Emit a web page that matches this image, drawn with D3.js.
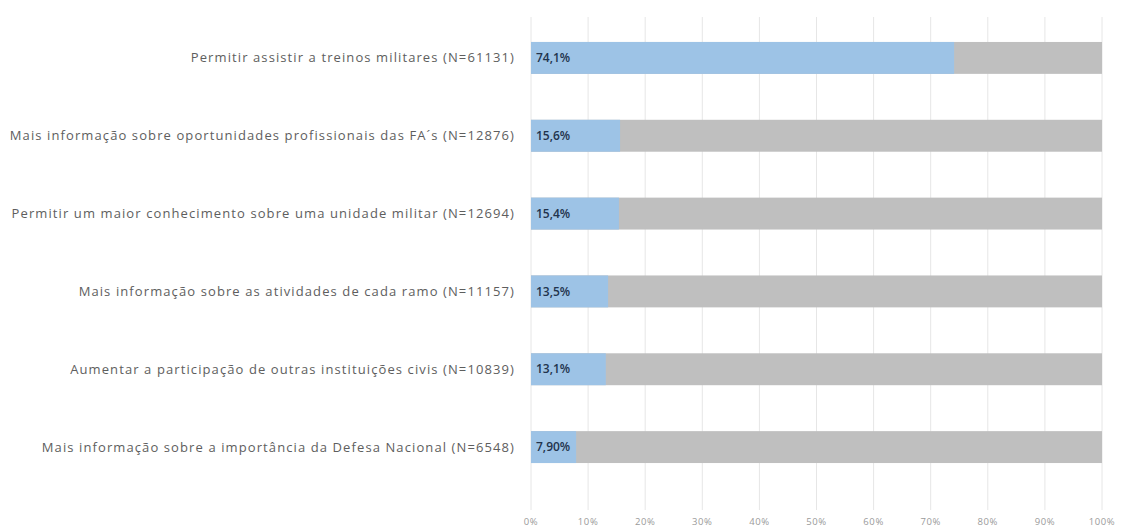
<!DOCTYPE html>
<html>
<head>
<meta charset="utf-8">
<script src="https://cdn.jsdelivr.net/npm/d3@7"></script>
<style>
  html, body { margin: 0; padding: 0; background: #fff; }
  svg text { font-family: "Open Sans", "DejaVu Sans", sans-serif; }
</style>
</head>
<body>
<svg id="chart" width="1121" height="532"></svg>
<script>
const categories = [
  "Permitir assistir a treinos militares (N=61131)",
  "Mais informação sobre oportunidades profissionais das FA´s (N=12876)",
  "Permitir um maior conhecimento sobre uma unidade militar (N=12694)",
  "Mais informação sobre as atividades de cada ramo (N=11157)",
  "Aumentar a participação de outras instituições civis (N=10839)",
  "Mais informação sobre a importância da Defesa Nacional (N=6548)"
];
const values = [74.1, 15.6, 15.4, 13.5, 13.1, 7.9];
const valueLabels = ["74,1%", "15,6%", "15,4%", "13,5%", "13,1%", "7,90%"];
const ticks = [0, 10, 20, 30, 40, 50, 60, 70, 80, 90, 100];
const tickLabels = ["0%", "10%", "20%", "30%", "40%", "50%", "60%", "70%", "80%", "90%", "100%"];

const svg = d3.select("#chart");
const plotLeft = 531, plotRight = 1102, plotTop = 19, plotBottom = 486;

const x = d3.scaleLinear().domain([0, 100]).range([plotLeft, plotRight]);
const y = d3.scaleBand().domain(categories).range([plotTop, plotBottom]).paddingInner(0.59).paddingOuter(0.295);

// vertical gridlines
svg.append("g").selectAll("line").data(ticks).join("line")
  .attr("x1", d => x(d)).attr("x2", d => x(d))
  .attr("y1", 17).attr("y2", 510)
  .attr("stroke", "#e6e6e6").attr("stroke-width", 1);

// remaining share (grey) to 100%
svg.append("g").selectAll("rect").data(categories).join("rect")
  .attr("x", x(0)).attr("width", x(100) - x(0))
  .attr("y", d => y(d)).attr("height", y.bandwidth())
  .attr("fill", "#bfbfbf");

// share (blue)
svg.append("g").selectAll("rect").data(values).join("rect")
  .attr("x", x(0)).attr("width", d => x(d) - x(0))
  .attr("y", (d, i) => y(categories[i])).attr("height", y.bandwidth())
  .attr("fill", "#9dc3e6");

// value labels
svg.append("g").selectAll("text").data(valueLabels).join("text")
  .attr("x", x(0) + 5)
  .attr("y", (d, i) => y(categories[i]) + y.bandwidth() / 2)
  .attr("dy", "0.35em")
  .attr("font-size", 12)
  .attr("font-weight", 600)
  .attr("fill", "#22334d")
  .text(d => d);

// category labels
svg.append("g").selectAll("text").data(categories).join("text")
  .attr("x", 515)
  .attr("y", d => y(d) + y.bandwidth() / 2)
  .attr("dy", "0.35em")
  .attr("text-anchor", "end")
  .attr("font-size", 13)
  .attr("letter-spacing", 1.1)
  .attr("fill", "#5e5e5e")
  .text(d => d);

// x axis tick labels
svg.append("g").selectAll("text").data(ticks).join("text")
  .attr("x", d => x(d))
  .attr("y", 525)
  .attr("text-anchor", "middle")
  .attr("font-size", 9.5)
  .attr("letter-spacing", 0.6)
  .attr("fill", "#9a9a9a")
  .text((d, i) => tickLabels[i]);
</script>
</body>
</html>
